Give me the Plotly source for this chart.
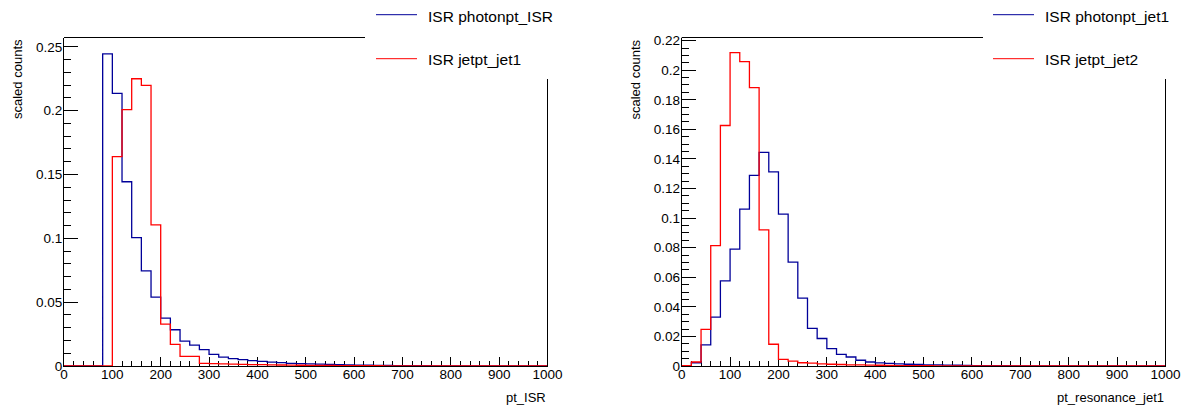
import plotly.graph_objects as go

W, H = 1184, 405

# ---------------- data (bin width 20, range 0..1000) ----------------
bin_lo = 0
bin_hi = 1000
bin_w = 20

isr_photonpt_isr = [0, 0, 0, 0, 0.2445, 0.2136, 0.1443, 0.1005, 0.0745, 0.0539,
                    0.0375, 0.0284, 0.0195, 0.0164, 0.0128, 0.0091, 0.0070, 0.0058, 0.0050, 0.0042,
                    0.0036, 0.0031, 0.0027, 0.0021, 0.0018, 0.0016, 0.0014, 0.0012, 0.0010, 0.0009,
                    0.0007, 0.0006, 0.0005, 0.0004, 0.0003, 0.0003, 0.0002, 0.0002, 0.0001, 0.0001,
                    0.0001, 0.0001, 0, 0, 0, 0, 0, 0, 0, 0]
isr_jetpt_jet1 = [0, 0, 0, 0, 0, 0.1640, 0.2008, 0.2250, 0.2198, 0.1105,
                  0.0328, 0.0170, 0.0076, 0.0076, 0.0021, 0.0019, 0.0017, 0.0014, 0.0013, 0.0011,
                  0.0010, 0.0009, 0.0008, 0.0007, 0.0006, 0.0005, 0.0005, 0.0004, 0.0003, 0.0003,
                  0.0002, 0.0002, 0.0002, 0.0001, 0.0001, 0.0001, 0.0001, 0, 0, 0,
                  0, 0, 0, 0, 0, 0, 0, 0, 0, 0]
isr_photonpt_jet1 = [0.0003, 0.0022, 0.0143, 0.0330, 0.0575, 0.0790, 0.1061, 0.1289, 0.1445, 0.1312,
                     0.1027, 0.0702, 0.0459, 0.0254, 0.0186, 0.0118, 0.0079, 0.0061, 0.0039, 0.0027,
                     0.0021, 0.0018, 0.0015, 0.0012, 0.0010, 0.0008, 0.0007, 0.0006, 0.0005, 0.0004,
                     0.0003, 0.0003, 0.0002, 0.0002, 0.0001, 0.0001, 0.0001, 0, 0, 0,
                     0, 0, 0, 0, 0, 0, 0, 0, 0, 0]
isr_jetpt_jet2 = [0.0003, 0.0027, 0.0247, 0.0814, 0.1626, 0.2119, 0.2058, 0.1882, 0.0921, 0.0147,
                  0.0045, 0.0033, 0.0022, 0.0020, 0.0014, 0.0012, 0.0010, 0.0008, 0.0007, 0.0006,
                  0.0005, 0.0004, 0.0003, 0.0003, 0.0002, 0.0002, 0.0001, 0.0001, 0, 0,
                  0, 0, 0, 0, 0, 0, 0, 0, 0, 0,
                  0, 0, 0, 0, 0, 0, 0, 0, 0, 0]

legend_left = ["ISR photonpt_ISR", "ISR jetpt_jet1"]
legend_right = ["ISR photonpt_jet1", "ISR jetpt_jet2"]
xtitle_left = "pt_ISR"
xtitle_right = "pt_resonance_jet1"
ytitle = "scaled counts"

BLUE = "#000099"
RED = "#ff0000"
FONT = "Liberation Sans, Arial, sans-serif"

nb = (bin_hi - bin_lo) // bin_w
edges = [bin_lo + i * bin_w for i in range(nb + 1)]


def step(vals):
    assert len(vals) == nb
    xs = edges[:]
    ys = list(vals) + [vals[-1]]
    return xs, ys


fig = go.Figure()
for vals, col, xa, ya, nm in [
    (isr_photonpt_isr, BLUE, "x", "y", legend_left[0]),
    (isr_jetpt_jet1, RED, "x", "y", legend_left[1]),
    (isr_photonpt_jet1, BLUE, "x2", "y2", legend_right[0]),
    (isr_jetpt_jet2, RED, "x2", "y2", legend_right[1]),
]:
    xs, ys = step(vals)
    fig.add_trace(go.Scatter(x=xs, y=ys, mode="lines", line=dict(color=col, width=1.3, shape="hv"),
                             xaxis=xa, yaxis=ya, name=nm, showlegend=False, hoverinfo="skip"))

# geometry in pixels
L1, R1 = 64, 547.5
L2, R2 = 681.7, 1165.5
TOP, BOT = 37.5, 366


def fx(p):
    return p / W


def fy(p):
    return 1 - p / H


tickfont = dict(family=FONT, size=13.5, color="black")
xcommon = dict(range=[bin_lo, bin_hi], tick0=0, dtick=100, ticks="inside", ticklen=9, tickwidth=1,
               tickcolor="black", showline=True, linecolor="black", linewidth=1, showgrid=False,
               zeroline=False, tickfont=tickfont, layer="below traces", automargin=False,
               ticklabelstandoff=-4,
               minor=dict(dtick=20, ticklen=5, ticks="inside", tickcolor="black", tickwidth=1, showgrid=False))
ycommon = dict(ticks="inside", ticklen=14, tickwidth=1, tickcolor="black", showline=True, linecolor="black",
               linewidth=1, showgrid=False, zeroline=False, tickfont=tickfont, layer="below traces",
               automargin=False, ticklabelstandoff=-2)

fig.update_layout(
    width=W, height=H, margin=dict(l=0, r=0, t=0, b=0, pad=0, autoexpand=False),
    paper_bgcolor="white", plot_bgcolor="white", showlegend=False,
    xaxis=dict(xcommon, domain=[fx(L1), fx(R1)], anchor="y"),
    yaxis=dict(ycommon, domain=[fy(BOT), fy(TOP)], range=[0, 0.2573], tick0=0, dtick=0.05, anchor="x",
               minor=dict(dtick=0.01, ticklen=7, ticks="inside", tickcolor="black", tickwidth=1)),
    xaxis2=dict(xcommon, domain=[fx(L2), fx(R2)], anchor="y2"),
    yaxis2=dict(ycommon, domain=[fy(BOT), fy(TOP)], range=[0, 0.2221], tick0=0, dtick=0.02, anchor="x2",
                minor=dict(dtick=0.005, ticklen=7, ticks="inside", tickcolor="black", tickwidth=1)),
)

shapes = []
# partial frame (top and right), legend box hides the corner
for l, r, legx in [(L1, R1, 365), (L2, R2, 983)]:
    shapes.append(dict(type="line", xref="paper", yref="paper", x0=fx(l), x1=fx(legx), y0=fy(TOP), y1=fy(TOP),
                       line=dict(color="black", width=1)))
    shapes.append(dict(type="line", xref="paper", yref="paper", x0=fx(r), x1=fx(r), y0=fy(79), y1=fy(BOT),
                       line=dict(color="black", width=1)))

annotations = []
# legends
for lx, names in [(376, legend_left), (993, legend_right)]:
    for (yy, ty), nm, col in zip([(14.7, 16.5), (58.7, 59.3)], names, [BLUE, RED]):
        shapes.append(dict(type="line", xref="paper", yref="paper", x0=fx(lx), x1=fx(lx + 41), y0=fy(yy), y1=fy(yy),
                           line=dict(color=col, width=1)))
        annotations.append(dict(xref="paper", yref="paper", x=fx(lx + 50), y=fy(ty), text=nm, showarrow=False,
                                xanchor="left", yanchor="middle", font=dict(family=FONT, size=15.5, color="black")))

# axis titles
for yx in [17.5, 635]:
    annotations.append(dict(xref="paper", yref="paper", x=fx(yx), y=fy(TOP), text=ytitle, textangle=-90,
                            showarrow=False, xanchor="center", yanchor="top",
                            font=dict(family=FONT, size=13, color="black")))
for rx, t in [(R1, xtitle_left), (R2, xtitle_right)]:
    annotations.append(dict(xref="paper", yref="paper", x=fx(rx), y=fy(397), text=t, showarrow=False,
                            xanchor="right", yanchor="middle", font=dict(family=FONT, size=13, color="black")))

fig.update_layout(shapes=shapes, annotations=annotations)
fig.write_html("out.html")
